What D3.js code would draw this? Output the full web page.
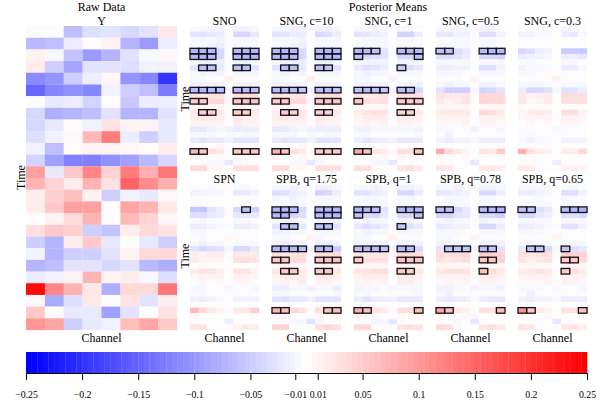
<!DOCTYPE html>
<html><head><meta charset="utf-8">
<script src="https://cdn.jsdelivr.net/npm/d3@7"></script>
<style>html,body{margin:0;background:#fff}svg{display:block}text{font-family:"Liberation Serif",serif;fill:#000}</style>
</head><body><svg id="c" width="600" height="400"></svg>
<script>
const channels=[0,1,2,3,4,5,6,7];
const times=d3.range(26);
const barTicks=[-0.25,-0.2,-0.15,-0.1,-0.05,-0.01,0.01,0.05,0.1,0.15,0.2,0.25];
const topTitles=["SNO","SNG, c=10","SNG, c=1","SNG, c=0.5","SNG, c=0.3"];
const botTitles=["SPN","SPB, q=1.75","SPB, q=1","SPB, q=0.78","SPB, q=0.65"];
// values in thousandths
const rawY=[
[-5,-5,-65,-33,-30,-40,-28,20],[-70,-62,-20,2,10,-72,-100,-20],[12,-8,-60,-100,-75,-30,-8,5],[15,-50,-90,-30,-28,-33,-15,-12],
[-115,-105,-50,-18,5,-105,-120,-200],[-150,-120,-110,-120,-15,-50,-65,-130],[-2,-25,-20,-45,2,-52,-20,-18],[-40,-80,-72,-62,-30,-75,-75,-30],
[-40,-25,-1,-12,28,10,10,-25],[-32,-15,8,68,125,-20,-50,-25],[-15,-65,-2,12,12,8,3,15],[-45,-95,-125,-125,-110,-95,-70,-40],
[90,-22,50,115,40,125,75,130],[72,42,18,70,25,150,110,75],[18,45,60,10,-48,-12,-25,5],[18,50,90,90,2,85,70,20],
[2,12,35,70,2,65,40,8],[30,50,45,-48,-58,18,35,25],[-48,-72,15,52,-22,1,-22,-48],[-15,-72,-50,-48,-30,12,38,38],
[-75,-65,-30,-28,-38,-30,-70,-78],[-17,-12,10,70,10,15,-8,-35],[235,115,70,22,-80,35,35,130],[5,-85,-32,22,-3,25,-28,15],
[50,1,-25,-25,-95,-30,1,28],[100,85,-50,-25,-15,60,85,50]];
const sno=[
[-10,-10,-12,-14,-3,-12,-12,-7],[-30,-30,-22,-18,-1,-38,-36,-22],[-6,-8,-10,-14,-2,-8,-8,-6],[-10,-10,-12,-18,-2,-10,-10,-8],
[-75,-75,-72,-40,-5,-72,-75,-72],[-72,-75,-70,-40,-5,-68,-72,-72],[-10,-14,-14,-18,-5,-14,-14,-10],[-30,-62,-62,-25,-3,-62,-62,-28],
[-10,-12,-10,-14,-2,-10,-8,-8],[-8,-8,-4,2,16,-4,-4,-5],[-12,-14,-12,-14,-4,-14,-14,-12],[-70,-72,-68,-62,-12,-70,-68,-62],
[30,22,25,28,8,32,30,30],[54,54,35,35,5,58,58,58],[6,8,6,8,3,8,7,8],[20,48,48,22,-5,48,46,22],
[16,20,18,16,-2,20,18,14],[10,12,10,14,4,16,14,10],[-22,-22,-14,-10,-12,-16,-16,-20],[-8,-10,-6,-4,-6,-4,-6,-8],
[-25,-30,-22,-22,-14,-28,-28,-28],[-2,-2,0,6,4,2,0,-2],[70,58,32,22,-2,52,52,55],[10,-6,-3,6,0,8,5,8],
[3,-2,-10,-8,-24,-6,-1,2],[38,38,5,6,-2,30,32,30]];
const sngC10=[
[-9,-10,-12,-13,-3,-12,-11,-6],[-30,-30,-20,-17,-1,-36,-34,-20],[-6,-8,-10,-13,-2,-8,-8,-6],[-10,-10,-11,-17,-2,-10,-10,-8],
[-72,-75,-72,-38,-5,-72,-75,-72],[-70,-74,-68,-38,-5,-68,-72,-70],[-10,-13,-13,-16,-4,-14,-13,-9],[-28,-62,-62,-24,-3,-62,-60,-26],
[-10,-12,-9,-13,-2,-10,-8,-8],[-7,-8,-4,3,18,-4,-4,-5],[-12,-14,-12,-14,-4,-14,-14,-12],[-68,-70,-66,-60,-12,-68,-66,-60],
[30,22,25,28,8,32,30,30],[52,52,35,35,5,56,56,55],[6,8,6,8,3,8,7,8],[18,46,46,20,-5,46,44,20],
[16,20,18,16,-2,20,18,14],[10,12,10,14,4,16,14,10],[-22,-22,-14,-10,-12,-16,-16,-20],[-8,-10,-6,-4,-6,-4,-6,-8],
[-25,-30,-22,-22,-14,-28,-28,-28],[-2,-2,0,6,4,2,0,-2],[72,58,34,22,-2,52,50,52],[10,-6,-3,6,0,8,5,8],
[3,-2,-10,-8,-24,-6,-1,2],[38,38,5,6,-2,30,32,30]];
const sngC1=[
[-8,-9,-11,-10,-3,-10,-10,-5],[-26,-24,-18,-12,0,-42,-42,-20],[-5,-7,-9,-8,-1,-7,-7,-5],[-8,-8,-10,-10,-1,-8,-8,-6],
[-72,-68,-62,-30,-4,-75,-75,-68],[-60,-38,-34,-26,-3,-36,-40,-62],[-8,-11,-11,-11,-3,-12,-11,-8],[-24,-34,-30,-18,-2,-55,-34,-22],
[-9,-11,-8,-8,-1,-8,-8,-7],[-6,-7,-3,3,14,-4,-4,-4],[-11,-13,-11,-12,-3,-13,-13,-11],[-58,-66,-64,-58,-10,-66,-62,-40],
[28,20,24,26,6,32,28,28],[52,30,28,30,4,56,54,52],[6,7,6,7,3,7,7,7],[18,26,32,28,-3,44,44,20],
[14,18,16,16,-2,18,18,12],[9,11,9,12,4,14,14,9],[-14,-14,-8,-6,-10,-7,-7,-12],[-6,-8,-3,-3,-4,-3,-5,-6],
[-20,-26,-20,-20,-12,-22,-24,-24],[-2,-2,0,4,3,1,0,-2],[80,56,28,18,-2,30,30,56],[9,-5,-3,5,-1,6,3,7],
[3,-1,-8,-6,-22,-5,0,2],[32,32,3,4,-1,26,30,24]];
const sngC05=[
[-8,-8,-12,-8,-2,-12,-10,-5],[-22,-22,-14,-14,-1,-32,-32,-14],[-5,-5,-8,-7,-1,-6,-6,-5],[-7,-7,-8,-8,-1,-7,-7,-5],
[-62,-62,-34,-22,-4,-68,-68,-68],[-34,-34,-28,-20,-1,-36,-36,-44],[-7,-9,-8,-8,-2,-10,-9,-7],[-20,-18,-14,-12,-3,-32,-32,-14],
[-8,-8,-7,-5,-1,-6,-6,-6],[-4,-4,-2,4,14,-3,-3,-3],[-9,-11,-10,-9,-2,-11,-11,-9],[-26,-50,-50,-50,-10,-44,-38,-28],
[28,20,24,28,4,42,38,38],[24,14,18,26,4,42,38,36],[6,6,5,6,2,6,6,6],[18,22,24,20,3,36,34,20],
[10,14,12,14,-2,14,14,10],[6,8,7,10,3,11,11,6],[-8,-8,-5,-4,-12,-4,-4,-6],[-5,-12,-2,-2,-4,-2,-3,-5],
[-12,-20,-14,-12,-8,-17,-20,-20],[-3,-2,0,2,2,0,0,-2],[80,38,20,10,-2,26,24,50],[7,-4,-2,8,-1,4,2,5],
[2,-1,-5,-5,-22,-3,0,2],[28,24,-2,0,0,20,24,18]];
const sngC03=[
[-5,-5,-8,-5,-2,-7,-7,-3],[-12,-12,-7,-7,0,-20,-22,-10],[-3,-3,-5,-3,0,-4,-4,-3],[-4,-4,-5,-4,0,-5,-5,-3],
[-38,-34,-18,-12,-3,-55,-52,-55],[-18,-15,-13,-10,-1,-18,-18,-25],[-4,-6,-5,-4,-1,-6,-6,-4],[-13,-10,-8,-6,-2,-20,-20,-9],
[-6,-6,-4,-3,0,-3,-3,-3],[-3,-3,-1,3,14,-2,-2,-2],[-6,-7,-6,-6,-2,-7,-7,-6],[-18,-38,-38,-34,-7,-30,-28,-18],
[24,12,16,22,3,36,32,34],[20,8,12,20,3,32,30,30],[4,4,3,4,2,4,4,4],[13,17,22,17,2,32,30,14],
[8,10,9,11,-1,11,11,8],[4,6,4,7,2,7,7,4],[-5,-5,-3,-2,-10,-2,-2,-5],[-3,-10,-2,-2,-2,-2,-2,-3],
[-8,-14,-9,-7,-5,-11,-13,-13],[-2,-2,0,3,2,0,0,-2],[75,34,17,11,-2,17,17,38],[4,-3,-2,4,0,3,2,3],
[2,0,-3,-3,-20,-2,0,2],[20,16,-2,0,0,14,17,13]];
const spn=[
[-5,-5,-8,-5,-2,-7,-7,-4],[-15,-15,-9,-9,0,-25,-22,-12],[-3,-4,-5,-3,0,-4,-4,-3],[-4,-4,-5,-4,0,-4,-4,-3],
[-58,-58,-28,-18,-3,-36,-62,-50],[-34,-34,-22,-18,-3,-22,-22,-22],[-4,-6,-5,-4,0,-6,-6,-4],[-17,-20,-12,-9,-2,-20,-20,-12],
[-6,-6,-4,-3,0,-3,-3,-3],[-4,-10,-2,3,9,-2,-2,-2],[-7,-12,-6,-6,-2,-7,-7,-6],[-28,-38,-34,-30,-7,-40,-40,-25],
[18,12,15,15,3,24,20,20],[20,14,14,14,3,32,30,28],[4,4,3,4,2,4,4,4],[17,25,25,17,2,28,25,14],
[7,10,9,11,-1,11,11,8],[4,6,4,7,2,7,7,4],[-6,-8,-3,-2,-6,-2,-3,-6],[-3,-8,-2,-2,-2,-2,-2,-3],
[-12,-17,-12,-9,-5,-13,-14,-14],[-2,-2,0,2,2,0,0,-2],[68,38,21,12,-3,21,21,48],[6,-3,-2,4,0,3,2,4],
[2,0,-4,-3,-18,-2,0,2],[28,25,-2,0,0,14,20,17]];
const spbQ175=[
[-9,-9,-13,-10,-3,-13,-13,-7],[-32,-32,-20,-15,-1,-42,-38,-20],[-6,-7,-11,-9,-1,-8,-8,-6],[-9,-9,-11,-10,-1,-10,-10,-7],
[-72,-72,-66,-36,-4,-72,-72,-72],[-70,-72,-42,-34,-4,-66,-70,-72],[-9,-13,-11,-9,-2,-13,-13,-11],[-28,-62,-62,-24,-4,-64,-62,-28],
[-11,-13,-10,-7,-1,-10,-10,-8],[-8,-8,-3,4,10,-6,-4,-4],[-13,-16,-13,-13,-3,-17,-17,-13],[-72,-72,-68,-64,-11,-72,-70,-52],
[30,20,25,30,7,34,30,30],[56,56,38,36,4,62,60,60],[7,8,6,8,3,8,7,8],[22,50,50,22,-2,52,50,20],
[14,18,16,19,-2,16,16,12],[8,11,8,15,3,14,14,8],[-19,-16,-8,-6,-11,-8,-8,-16],[-6,-8,-2,-3,-4,-3,-4,-6],
[-26,-31,-21,-21,-13,-26,-28,-28],[-4,-3,0,3,2,2,0,-3],[74,64,35,25,-4,30,58,60],[11,-6,-3,4,-3,7,4,8],
[3,-2,-8,-7,-26,-6,0,3],[42,40,-3,0,-2,30,36,32]];
const spbQ1=[
[-8,-8,-12,-8,-3,-12,-12,-6],[-29,-27,-18,-13,0,-40,-38,-19],[-5,-6,-10,-7,0,-7,-7,-5],[-8,-8,-10,-8,0,-8,-8,-6],
[-72,-68,-62,-28,-3,-72,-72,-70],[-62,-38,-36,-25,-3,-38,-40,-62],[-8,-11,-10,-8,-2,-12,-11,-8],[-25,-34,-30,-20,-3,-58,-35,-22],
[-10,-11,-8,-6,0,-8,-8,-7],[-7,-7,-3,4,11,-4,-4,-4],[-12,-14,-12,-12,-3,-14,-14,-12],[-64,-68,-66,-60,-11,-68,-64,-38],
[28,20,22,28,6,38,32,30],[58,32,30,32,4,62,58,56],[7,7,6,7,3,7,7,7],[20,25,32,30,-2,50,48,20],
[14,16,15,18,-2,16,16,12],[10,12,8,14,3,15,15,8],[-11,-10,-6,-4,-10,-6,-6,-10],[-6,-7,-2,-3,-4,-3,-4,-6],
[-20,-26,-20,-20,-12,-21,-24,-24],[-4,-3,0,3,2,2,0,-3],[84,62,28,17,-3,32,32,62],[10,-7,-3,4,0,6,3,7],
[3,-2,-7,-6,-24,-4,0,3],[38,35,-3,0,-2,27,32,27]];
const spbQ078=[
[-8,-8,-13,-8,-3,-11,-11,-6],[-25,-25,-17,-12,0,-40,-38,-17],[-5,-6,-9,-6,0,-7,-7,-5],[-7,-7,-9,-7,0,-8,-8,-6],
[-64,-64,-38,-25,-3,-68,-70,-72],[-42,-42,-30,-25,-2,-40,-40,-46],[-7,-11,-9,-7,-2,-11,-10,-7],[-22,-20,-14,-11,-3,-38,-38,-17],
[-9,-10,-7,-5,0,-6,-6,-6],[-6,-6,-2,4,14,-3,-3,-3],[-11,-14,-11,-10,-2,-12,-12,-11],[-28,-60,-60,-58,-14,-62,-60,-28],
[35,25,30,35,4,48,44,44],[32,20,25,32,4,60,58,40],[6,6,5,7,2,7,6,6],[20,25,30,25,3,60,38,20],
[11,14,12,14,-2,16,16,11],[7,10,7,11,3,12,12,7],[-12,-11,-7,-4,-11,-6,-6,-11],[-6,-11,-2,-2,-3,-2,-3,-4],
[-20,-25,-18,-16,-10,-20,-23,-23],[-3,-2,0,2,2,0,0,-2],[92,62,22,11,-2,30,27,68],[7,-4,-2,7,-6,4,2,6],
[2,-2,-6,-4,-23,-3,0,2],[35,30,-2,0,0,25,30,22]];
const spbQ065=[
[-6,-6,-10,-6,-3,-10,-10,-4],[-20,-20,-13,-10,0,-35,-32,-14],[-4,-4,-7,-4,0,-6,-6,-4],[-6,-6,-7,-6,0,-7,-7,-4],
[-62,-60,-33,-21,-3,-70,-72,-78],[-38,-38,-25,-20,-2,-33,-33,-38],[-6,-8,-7,-6,0,-10,-8,-6],[-20,-17,-11,-10,-2,-30,-30,-14],
[-7,-8,-6,-4,0,-4,-4,-4],[-4,-4,-2,4,14,-3,-3,-3],[-8,-11,-8,-8,-2,-10,-10,-8],[-25,-60,-60,-38,-8,-60,-35,-25],
[30,22,27,32,4,48,42,42],[25,14,20,28,3,54,52,36],[6,6,4,6,2,6,6,6],[17,22,28,22,2,54,32,18],
[8,12,11,12,-2,14,14,10],[6,8,6,10,2,11,11,6],[-10,-10,-6,-3,-10,-4,-4,-8],[-4,-11,-2,-2,-3,-2,-2,-4],
[-14,-20,-14,-12,-7,-17,-18,-18],[-3,-2,0,3,2,0,0,-2],[105,58,20,11,-2,25,25,62],[6,-3,-2,6,-4,3,2,4],
[2,0,-4,-4,-22,-3,0,2],[27,24,-2,0,0,20,25,18]];
// significant cells: [row, columns]
const boxA=[[4,[0,1,2,5,6,7]],[5,[0,1,2,5,6,7]],[7,[1,2,5,6]],[11,[0,1,2,3,5,6,7]],[13,[0,1,5,6,7]],[15,[1,2,5,6]],[22,[0,1,5,6,7]]];
const boxC1=[[4,[0,1,2,5,6,7]],[5,[0,7]],[7,[5]],[11,[0,1,2,3,5,6]],[13,[0,5,6,7]],[15,[5,6]],[22,[0,1,7]]];
const boxC05=[[4,[0,1,5,6,7]]];
const boxNone=[];
const boxSpn=[[4,[6]]];
const boxQ175=[[4,[0,1,2,5,6,7]],[5,[0,1,5,6,7]],[7,[1,2,5,6]],[11,[0,1,2,3,5,6]],[13,[0,1,5,6,7]],[15,[1,2,5,6]],[22,[0,1,6,7]]];
const boxQ1=boxC1;
const boxQ078=[[4,[0,1,5,6,7]],[11,[1,2,3,5,6]],[13,[5,6]],[15,[5]],[22,[0,1,7]]];
const boxQ065=[[4,[0,1,5,6,7]],[11,[1,2,5]],[13,[5,6]],[15,[5]],[22,[0,1,7]]];

const topData=[sno,sngC10,sngC1,sngC05,sngC03], topBoxes=[boxA,boxA,boxC1,boxC05,boxNone];
const botData=[spn,spbQ175,spbQ1,spbQ078,spbQ065], botBoxes=[boxSpn,boxQ175,boxQ1,boxQ078,boxQ065];

const svg=d3.select("#c");
const ramp=d3.scaleLinear().domain([0,0.5,1]).range(["#0000ff","#ffffff","#ff0000"]);
const palette=d3.range(100).map(i=>ramp(i/99));
const color=d3.scaleQuantize().domain([-0.25,0.25]).range(palette);
const serif=12;
function label(t,x,y,rot,size){
  const e=svg.append("text").text(t).attr("text-anchor","middle").attr("font-size",size||serif);
  if(rot)e.attr("transform",`translate(${x},${y}) rotate(-90)`);else e.attr("x",x).attr("y",y);
}
function heat(data,x0,x1,y0,y1,boxes){
  const x=d3.scaleBand().domain(channels).range([x0,x1]);
  const y=d3.scaleBand().domain(times).range([y0,y1]);
  const g=svg.append("g");
  data.forEach((row,r)=>row.forEach((v,c)=>{
    g.append("rect").attr("x",x(c)).attr("y",y(r)).attr("width",x.bandwidth()+0.15).attr("height",y.bandwidth()+0.15).attr("fill",color(v/1000));
  }));
  (boxes||[]).forEach(([r,cs])=>cs.forEach(c=>{
    g.append("rect").attr("x",x(c)).attr("y",y(r)).attr("width",x.bandwidth()).attr("height",y.bandwidth()).attr("fill","none").attr("stroke","#111").attr("stroke-width",1.3);
  }));
}
heat(rawY,26,177,26,330);
label("Raw Data",101.5,11);
label("Y",101.5,24.5);
label("Time",24.5,177.5,true);
label("Channel",101.5,342);
label("Posterior Means",388,11);
const panelX=d3.scalePoint().domain(d3.range(5)).range([190,518]);
const pw=69;
topData.forEach((d,i)=>{const x=panelX(i);heat(d,x,x+pw,26,171,topBoxes[i]);label(topTitles[i],x+pw/2,24.5);});
botData.forEach((d,i)=>{const x=panelX(i);heat(d,x,x+pw,184.5,330,botBoxes[i]);label(botTitles[i],x+pw/2,182.5);label("Channel",x+pw/2,342);});
label("Time",188.5,99,true);
label("Time",188.5,256,true);
// colour bar
const bx=d3.scaleLinear().domain([-0.25,0.25]).range([26,587]);
const step=(0.5)/100;
svg.append("g").selectAll("rect").data(palette).join("rect")
 .attr("x",(d,i)=>bx(-0.25+i*step)).attr("y",352).attr("width",bx(step)-bx(0)+0.3).attr("height",21).attr("fill",d=>d);
const ax=svg.append("g").attr("transform","translate(0,373)")
 .call(d3.axisBottom(bx).tickValues(barTicks).tickSize(7).tickSizeOuter(0).tickPadding(11)
 .tickFormat(d=>String(d).replace("-","\u2212")));
ax.selectAll("line").attr("stroke","#000");
ax.select(".domain").attr("stroke","#000");
ax.selectAll("text").attr("font-size",9.8).attr("font-family",'"Liberation Serif",serif').attr("fill","#000");
</script></body></html>
